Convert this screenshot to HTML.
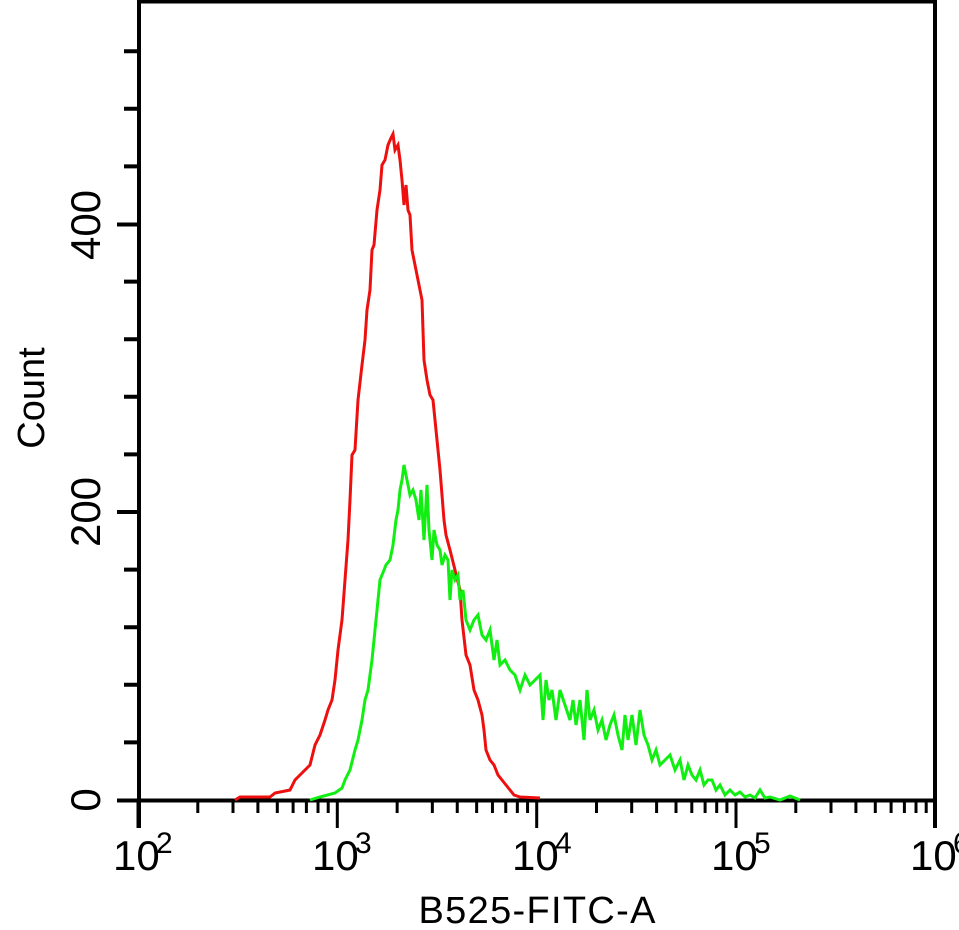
<!DOCTYPE html>
<html><head><meta charset="utf-8"><style>html,body{margin:0;padding:0;background:#fff}svg{display:block}</style></head>
<body>
<svg width="959" height="930" viewBox="0 0 959 930" xmlns="http://www.w3.org/2000/svg" font-family="Liberation Sans, sans-serif">
<rect width="959" height="930" fill="#fff"/>
<!-- frame -->
<path d="M139 0 V828 M137 1.5 H935 M935 0 V828 M117 800.5 H937" stroke="#000" stroke-width="4" fill="none"/>
<!-- y ticks -->
<g stroke="#000" stroke-width="4">
<path d="M117 512 H139 M117 224.5 H139"/>
<path d="M124 742.4 H139 M124 684.8 H139 M124 627.2 H139 M124 569.6 H139 M124 454.4 H139 M124 396.8 H139 M124 339.2 H139 M124 281.6 H139 M124 166.4 H139 M124 108.8 H139 M124 51.2 H139"/>
</g>
<g id="xt" stroke="#000" stroke-width="3">
<path d="M138 800 V828 M337.3 800 V828 M536.7 800 V828 M736 800 V828 M935 800 V828"/>
<path id="mn" d="M197.8 800V813 M233 800V813 M257.9 800V813 M277.3 800V813 M293.1 800V813 M306.4 800V813 M318 800V813 M328.2 800V813"/>
<use href="#mn" x="199.35"/><use href="#mn" x="398.7"/><use href="#mn" x="598"/>
</g>
<!-- tick labels -->
<g font-size="42" fill="#000">
<text x="113" y="870">10</text><text x="156" y="853" font-size="30">2</text>
<text x="312" y="870">10</text><text x="355" y="853" font-size="30">3</text>
<text x="512" y="870">10</text><text x="555" y="853" font-size="30">4</text>
<text x="711" y="870">10</text><text x="754" y="853" font-size="30">5</text>
<text x="910" y="870">10</text><text x="953" y="853" font-size="30">6</text>
<text transform="translate(100,800) rotate(-90)" text-anchor="middle">0</text>
<text transform="translate(100,512) rotate(-90)" text-anchor="middle">200</text>
<text transform="translate(100,225) rotate(-90)" text-anchor="middle">400</text>
<text transform="translate(44,398) rotate(-90)" text-anchor="middle" font-size="38">Count</text>
<text x="537" y="923" text-anchor="middle" font-size="38" textLength="237">B525-FITC-A</text>
</g>
<!-- red -->
<polyline fill="none" stroke="#ee0f0f" stroke-width="3" stroke-linejoin="miter" points="235,800 240,797 270,797 275,793 290,790 295,780 300,775 310,765 315,745 320,735 325,720 328,710 332,700 335,680 338,650 342,620 345,580 348,540 350,500 352,455 355,450 358,400 362,365 365,340 367,310 370,290 372,250 374,245 377,210 380,190 382,165 385,160 388,145 391,138 393,134 395,150 398,145 400,160 402,180 404,205 406,185 408,210 410,215 412,250 415,265 418,280 422,300 424,360 427,380 430,395 433,400 436,430 440,470 444,520 446,535 450,550 455,570 460,590 462,620 466,655 470,665 474,690 478,700 482,715 484,730 486,750 490,760 494,765 498,775 502,780 506,785 510,790 514,795 520,797 540,798"/>
<!-- green -->
<polyline fill="none" stroke="#11ee11" stroke-width="3" points="310,800 320,797 335,793 342,788 345,780 350,770 355,750 358,740 362,720 365,700 368,690 372,660 374,640 376,620 378,600 380,580 384,570 386,565 390,560 393,545 396,520 398,510 400,490 402,480 404,465 407,480 410,495 413,490 416,500 419,520 421,490 424,540 427,485 429,530 432,560 434,530 437,545 440,550 442,565 445,555 448,560 450,600 452,570 455,580 458,575 460,600 463,590 466,620 470,630 474,620 478,615 482,635 486,640 490,630 494,660 497,640 500,665 505,660 510,670 515,675 520,690 525,675 530,685 535,680 540,675 543,720 546,680 549,700 552,690 556,720 560,690 565,705 570,720 573,700 576,725 580,700 584,740 587,690 590,720 594,710 598,730 602,720 606,740 610,725 614,715 618,735 622,750 625,715 628,740 632,715 636,745 640,710 644,735 648,745 652,760 656,750 660,765 665,760 670,755 675,770 680,760 684,780 688,765 692,775 696,780 700,770 704,785 708,780 712,780 716,790 720,785 725,795 730,790 735,795 740,792 745,797 750,795 755,798 760,790 765,798 770,797 780,800 790,796 800,800"/>
</svg>
</body></html>
